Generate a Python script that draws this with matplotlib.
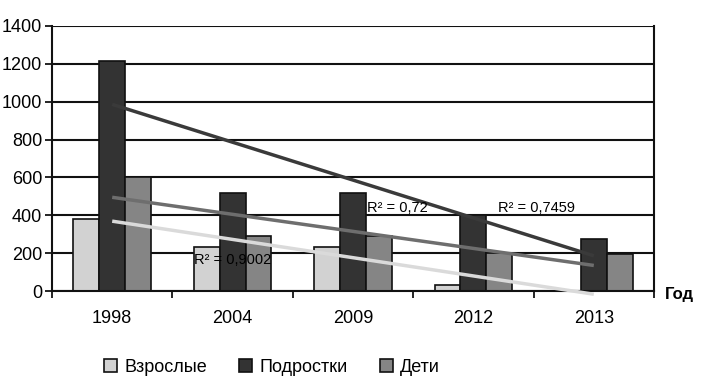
import numpy as np
import matplotlib.pyplot as plt

plt.rcParams['font.family'] = ['Liberation Sans', 'DejaVu Sans']

years = ["1998", "2004", "2009", "2012", "2013"]
adults = [380, 235, 235, 30, 0]
teens = [1215, 520, 520, 400, 275]
kids = [600, 290, 290, 200, 195]

series = [("Взрослые", adults, "#d2d2d2", "#dadada"),
          ("Подростки", teens, "#333333", "#3a3a3a"),
          ("Дети", kids, "#858585", "#6e6e6e")]

r2_labels = [("R² = 0,9002", 1.0, 164),
             ("R² = 0,72", 2.37, 439),
             ("R² = 0,7459", 3.52, 439)]

fig = plt.figure(figsize=(7.09, 3.84), dpi=100)
ax = fig.add_axes([52 / 709, 1 - 291 / 384, 602 / 709, 265 / 384])

x = np.arange(len(years))
w = 0.215
for i, (name, vals, color, lcolor) in enumerate(series):
    ax.bar(x + (i - 1) * w, vals, w, color=color, edgecolor="#111111",
           linewidth=1.2, label=name, zorder=2)

for i, (name, vals, color, lcolor) in enumerate(series):
    k, b = np.polyfit(x, vals, 1)
    ax.plot(x, k * x + b, color=lcolor, linewidth=2.5, zorder=3,
            solid_capstyle="butt", clip_on=False)

for text, tx, ty in r2_labels:
    ax.text(tx, ty, text, fontsize=10.5, ha="center", va="center", zorder=4)

ax.set_xlim(-0.5, 4.5)
ax.set_ylim(0, 1400)
ax.set_yticks(range(0, 1401, 200))
ax.yaxis.grid(True, color="#111111", linewidth=1.5)
ax.set_axisbelow(True)
ax.set_xticks(x)
ax.set_xticklabels(years, fontsize=13)
ax.set_xticks(np.arange(-0.5, 5, 1), minor=True)
ax.tick_params(axis="x", which="major", length=0, pad=14)
ax.tick_params(axis="x", which="minor", length=5, width=1.2)
ax.tick_params(axis="y", length=5, width=1.2, labelsize=13, pad=2)
for s in ax.spines.values():
    s.set_linewidth(1.5)
    s.set_color("#111111")
ax.spines["top"].set_visible(False)

fig.text(665 / 709, 1 - 294 / 384, "Год", fontsize=12, fontweight="bold",
         ha="left", va="center")

fig.legend(loc="center", bbox_to_anchor=(272 / 709, 1 - 367 / 384), ncol=3,
           frameon=False, fontsize=13, handlelength=0.7, handleheight=0.7,
           handletextpad=0.4, columnspacing=1.8)

fig.savefig("out.png", dpi=100)
